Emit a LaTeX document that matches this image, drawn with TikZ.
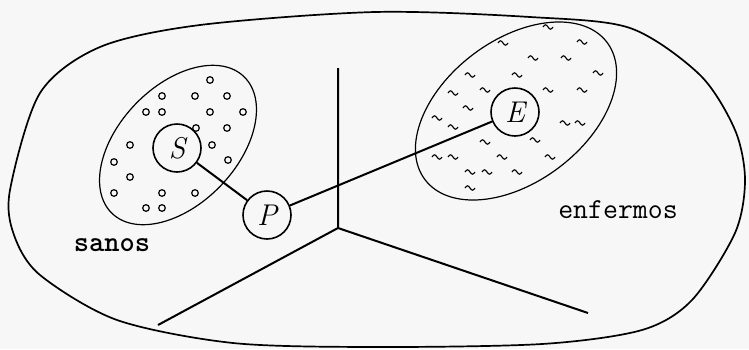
\documentclass[tikz,border=0pt]{standalone}
\usepackage{fontspec}
\newfontfamily\sanosfont{lmmonolt10-bold.otf}
\usetikzlibrary{positioning}
\tikzset{
  blob/.style={line width=1.7pt,line join=round},
  zone/.style={line width=1.2pt},
  nd/.style={draw,circle,line width=1.6pt,minimum size=48pt,inner sep=0pt,
             font=\itshape\fontsize{30}{34}\selectfont},
  ln/.style={line width=2pt},
  ring/.style={line width=1.2pt},
  wav/.style={line width=1.1pt},
  lbl/.style={font=\ttfamily\fontsize{29}{34}\selectfont,inner sep=0pt},
}

\begin{document}
\begin{tikzpicture}[x=1pt,y=-1pt]
  \path[fill=black!3,use as bounding box] (0,0) rectangle (749,349);
  % population
  \draw[blob] plot[smooth cycle] coordinates {(10,190) (40,93) (100,47) (200,25)
      (375,12) (530,17) (630,28) (700,75) (735,130) (745,180) (735,233)
      (692,300) (642,330) (542,344) (375,347) (233,343) (117,320) (40,275)
      (14,235)};
  % the two groups
  \draw[zone,rotate around={46:(178,145)}] (178,145) ellipse [x radius=95,y radius=59];
  \draw[zone,rotate around={37:(516,111)}] (516,111) ellipse [x radius=114,y radius=71];
  \foreach \x/\y in {210/80,162/96,195/96,227/96,146/112,162/112,210/112,243/112,
                     196/128,227/128,130/145,212/145,114/162,228/160,130/177,
                     114/193,162/193,195/193,146/208,162/208}
    \draw[ring] (\x,\y) circle (3.3pt);
  \foreach \x/\y in {548/27,503/43,582/42,533/58,566/58,470/75,517/75,598/73,
                     453/93,485/90,548/90,582/90,468/108,437/118,453/127,
                     565/123,580/123,485/142,535/140,437/157,453/157,502/157,
                     550/157,470/172,487/172,517/172,470/188}
    \draw[wav] (\x-5,\y) sin (\x-2.5,\y-2.2) cos (\x,\y)
               sin (\x+2.5,\y+2.2) cos (\x+5,\y);
  % boundaries
  \coordinate (j) at (338,228);
  \coordinate (jt) at (338,68);
  \coordinate (jl) at (158,325);
  \coordinate (jr) at (588,313);
  \draw[ln] (jt) -- (j) -- (jl);
  \draw[ln] (j) -- (jr);
  % points
  \node[nd] (S) at (177,148) {S};
  \node[nd] (P) at (267,215) {P};
  \node[nd] (E) at (515,112) {E};
  \draw[ln] (S) -- (P);
  \draw[ln] (P) -- (E);
  \node[lbl,font=\sanosfont\fontsize{29}{34}\selectfont] (sanos) at (112,245) {sanos};
  \node[lbl] (enf) at (618,210) {enfermos};
\end{tikzpicture}
\end{document}
